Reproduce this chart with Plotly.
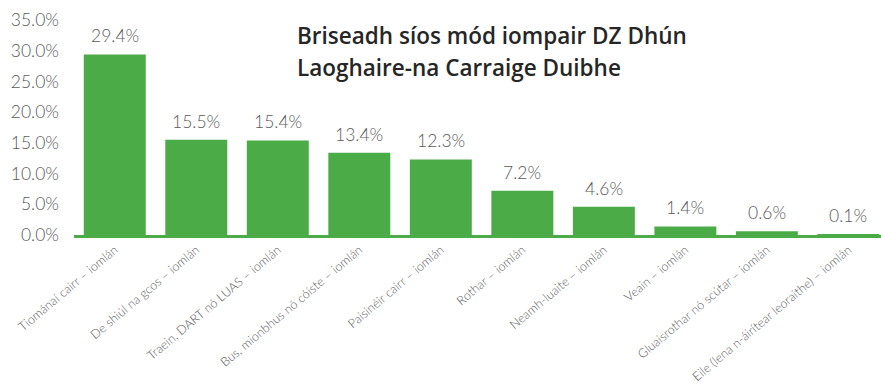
import plotly.graph_objects as go

categories = [
    "Tiománaí cairr – iomlán",
    "De shiúl na gcos – iomlán",
    "Traein, DART nó LUAS – iomlán",
    "Bus, mionbhus nó cóiste – iomlán",
    "Paisinéir cairr – iomlán",
    "Rothar – iomlán",
    "Neamh-luaite – iomlán",
    "Veain – iomlán",
    "Gluaisrothar nó scútar – iomlán",
    "Eile (lena n-áirítear leoraithe) – iomlán",
]
shares = [29.4, 15.5, 15.4, 13.4, 12.3, 7.2, 4.6, 1.4, 0.6, 0.1]
y_ticks = [0, 5, 10, 15, 20, 25, 30, 35]
title_lines = ["Briseadh síos mód iompair DZ Dhún", "Laoghaire-na Carraige Duibhe"]

GREEN = "#4aab47"
GREY = "#595959"
LIGHT = dict(family="Lato, Open Sans, sans-serif", color=GREY, weight=300)

W, H = 881, 387
L, R, T, B = 74, 0, 20, 152

fig = go.Figure(
    go.Bar(
        x=categories,
        y=shares,
        marker=dict(color=GREEN, line=dict(width=0)),
        hoverinfo="skip",
    )
)

for cat, val in zip(categories, shares):
    fig.add_annotation(
        x=cat, y=val, text=f"{val:.1f}%", showarrow=False,
        yanchor="bottom", yshift=6,
        font=dict(size=17.5, **LIGHT),
    )

# two-line heading, placed in pixel terms relative to the plot area
plot_w, plot_h = W - L - R, H - T - B
for i, line in enumerate(title_lines):
    top_px = 18 + 32 * i
    fig.add_annotation(
        text=line, showarrow=False,
        xref="paper", yref="paper",
        x=(295 - L) / plot_w, xanchor="left",
        y=1 - (top_px - T) / plot_h, yanchor="top",
        font=dict(family="Open Sans, sans-serif", size=22.5, color="#262626", weight=600),
    )

fig.update_layout(
    width=W, height=H,
    margin=dict(l=L, r=R, t=T, b=B, autoexpand=False),
    paper_bgcolor="white", plot_bgcolor="white",
    bargap=0.24,
    showlegend=False,
)

fig.update_xaxes(
    range=[-0.5, 9.4],
    showline=True, linecolor=GREEN, linewidth=2.5,
    showgrid=False, ticks="",
    tickangle=-40,
    automargin=False,
    tickfont=dict(size=12.5, **LIGHT),
)

fig.update_yaxes(
    range=[0, 35],
    tickvals=y_ticks,
    ticktext=[f"{v:.1f}%" for v in y_ticks],
    showgrid=False, zeroline=False, showline=False, ticks="",
    ticklabelstandoff=14,
    automargin=False,
    tickfont=dict(size=17.5, **LIGHT),
)

fig.write_html("out.html")
